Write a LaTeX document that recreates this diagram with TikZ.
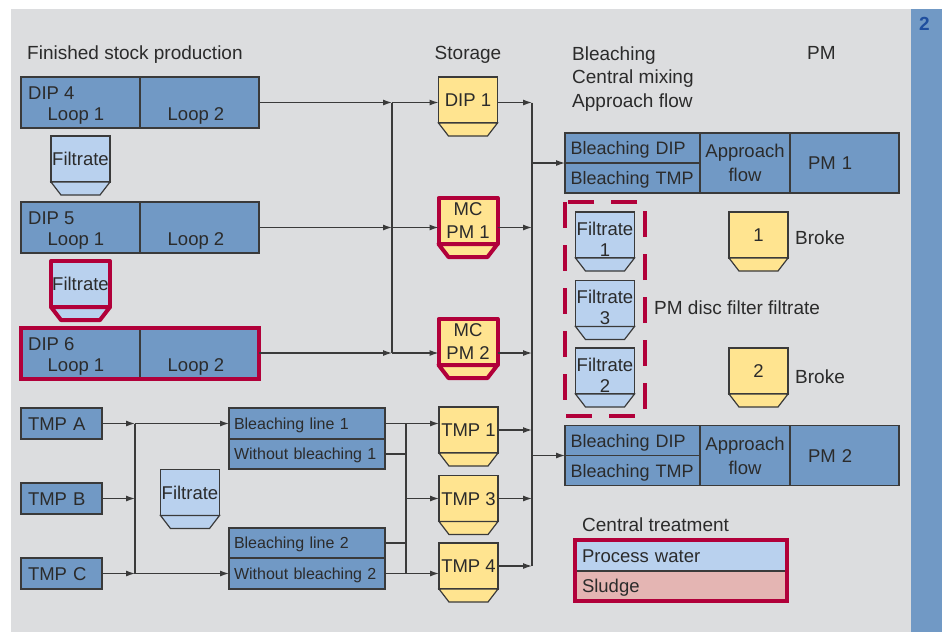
\documentclass[tikz,border=0pt]{standalone}
\usepackage{fontspec}
\setmainfont{Liberation Sans}
\usetikzlibrary{arrows.meta,calc}
\definecolor{panel}{HTML}{DCDDDF}
\definecolor{sidebar}{HTML}{7199C5}
\definecolor{boxblue}{HTML}{7199C5}
\definecolor{paleblue}{HTML}{B9D1EE}
\definecolor{paleyellow}{HTML}{FFE490}
\definecolor{alert}{HTML}{B1003A}
\definecolor{sludge}{HTML}{E4B5B3}
\definecolor{ink}{HTML}{2B2B2B}
\definecolor{edge}{HTML}{3A3A3A}
\definecolor{tag}{HTML}{1F4E9E}

\tikzset{
  oneline/.style={text height=13pt, text depth=0pt},
  box/.style={draw=edge, line width=1.2pt, fill=boxblue, inner sep=0pt, outer sep=0pt, text=ink},
  cell/.style={box, oneline, align=left, inner xsep=7pt, minimum height=#1},
  cell/.default=30pt,
  bin/.style={draw=edge, line width=1.2pt, fill=#1, minimum width=59pt, minimum height=46pt,
    inner sep=0pt, outer sep=0pt, align=center, font=\fontsize{18.5}{21}\selectfont},
  hotbin/.style={bin=#1, draw=alert, line width=4pt, line join=round},
  head/.style={font=\fontsize{19}{21}\selectfont, inner sep=0pt, text=ink},
  wire/.style={draw=edge, line width=1.2pt},
  flow/.style={wire, -{Latex[length=9pt,width=6pt]}}
}

\begin{document}
\begin{tikzpicture}[x=1pt, y=-1pt, font=\fontsize{18.5}{21}\selectfont, text=ink]
    \useasboundingbox (0,0) rectangle (942,632);
    \fill [white] (0,0) rectangle (942,632);
    \fill [panel] (11,9) rectangle (911,632);
    \fill [sidebar] (911,9) rectangle (942,632);
    \node [font=\fontsize{19}{21}\selectfont\bfseries, text=tag] (fignum) at (924.5,24) {2};

    \node [head, oneline, anchor=west] (hfin) at (27,53) {Finished stock production};
    \node [head, oneline] (hsto) at (468,53) {Storage};
    \node [head, anchor=west, align=left, font=\fontsize{19}{23.5}\selectfont] (hble) at (572,79) {Bleaching\\Central mixing\\Approach flow};
    \node [head, oneline, anchor=west] (hpm) at (807,53) {PM};

    \foreach \n/\y in {4/102.5,5/227.5,6/353}
        {\node [box, minimum width=119pt, minimum height=51pt] (dip\n l) at (80.5,\y) {};
         \node [box, minimum width=119pt, minimum height=51pt] (dip\n r) at (199.5,\y) {};
         \node [oneline, anchor=west, inner sep=0pt] (dip\n t) at (28,\y-9.5) {DIP \n};
         \node [oneline, inner sep=0pt] (dip\n a) at (76,\y+11.5) {Loop 1};
         \node [oneline, inner sep=0pt] (dip\n b) at (196,\y+11.5) {Loop 2};}
    \draw [alert, line width=4pt] (dip6l.north west) rectangle (dip6r.south east);

    \node [bin=paleblue, oneline] (filt4) at (80.5,159) {Filtrate};
    \node [hotbin=paleblue, oneline] (filt5) at (80.5,284) {Filtrate};
    \node [bin=paleblue, oneline] (filtc) at (190,492.5) {Filtrate};
    \node [bin=paleyellow, oneline] (dip1) at (468,100) {DIP 1};
    \node [hotbin=paleyellow, font=\fontsize{18.5}{23}\selectfont] (mcpm1) at (468,221) {MC\\PM 1};
    \node [hotbin=paleyellow, font=\fontsize{18.5}{23}\selectfont] (mcpm2) at (468,342) {MC\\PM 2};
    \node [bin=paleyellow, oneline] (tmp1) at (468.5,430) {TMP 1};
    \node [bin=paleyellow, oneline] (tmp3) at (468.5,498.5) {TMP 3};
    \node [bin=paleyellow, oneline] (tmp4) at (468.5,566) {TMP 4};
    \node [bin=paleblue] (filt1) at (605,235) {\rule{0pt}{22pt}Filtrate\\1};
    \node [bin=paleblue] (filt3) at (605,303.5) {\rule{0pt}{22pt}Filtrate\\3};
    \node [bin=paleblue] (filt2) at (605,371) {\rule{0pt}{22pt}Filtrate\\2};
    \node [bin=paleyellow, oneline] (broke1) at (758.5,235) {1};
    \node [bin=paleyellow, oneline] (broke2) at (758.5,371) {2};

    \foreach \b/\c in {filt4/paleblue,filtc/paleblue,dip1/paleyellow,tmp1/paleyellow,tmp3/paleyellow,tmp4/paleyellow,filt1/paleblue,filt3/paleblue,filt2/paleblue,broke1/paleyellow,broke2/paleyellow}
        {\filldraw [draw=edge, line width=1.2pt, fill=\c] (\b.south west) -- ++(10,13) -- ($(\b.south east)+(-10,13)$) -- (\b.south east) -- cycle;}
    \foreach \b/\c in {filt5/paleblue,mcpm1/paleyellow,mcpm2/paleyellow}
        {\filldraw [draw=alert, line width=4pt, line join=round, fill=\c] (\b.south west) -- ++(10,13) -- ($(\b.south east)+(-10,13)$) -- (\b.south east) -- cycle;}

    \foreach \t/\y in {A/423.5,B/498.5,C/573.5}
        {\node [cell=31pt, text width=67pt] (tmp\t) at (61.5,\y) {TMP \t};}
    \foreach \b/\y/\h/\s in {bl1/423.5/31pt/Bleaching line 1,wb1/454/30pt/Without bleaching 1,bl2/543/30pt/Bleaching line 2,wb2/573.5/31pt/Without bleaching 2}
        {\node [cell=\h, text height=11.5pt, text width=146pt, inner xsep=5pt, font=\fontsize{16}{19}\selectfont] (\b) at (307,\y) {\mbox{\s}};}

    \foreach \p/\y in {1/163,2/455.5}
        {\node [cell, text width=124pt, inner xsep=5.5pt, font=\fontsize{18}{21}\selectfont] (pm\p a) at (632.5,\y-15) {Bleaching DIP};
         \node [cell, text width=124pt, inner xsep=5.5pt, font=\fontsize{18}{21}\selectfont] (pm\p b) at (632.5,\y+15) {Bleaching TMP};
         \node [box, minimum width=90pt, minimum height=60pt, align=center, font=\fontsize{18.5}{24}\selectfont] (pm\p c) at (745,\y) {Approach\\flow};
         \node [box, oneline, minimum height=60pt, align=left, text width=79pt, inner xsep=15pt] (pm\p d) at (844.5,\y) {\hspace{3pt}PM \p};}

    \node [head, oneline, anchor=west] (broke1t) at (795,238) {Broke};
    \node [head, oneline, anchor=west] (broke2t) at (795,377) {Broke};
    \node [head, oneline, anchor=west] (disc) at (654,308) {PM disc filter filtrate};
    \draw [alert, line width=4pt, dash pattern=on 26pt off 17pt] (565,202) rectangle (645,416);

    \node [head, oneline, anchor=west] (central) at (582,525) {Central treatment};
    \node [cell=31pt, fill=paleblue, text width=198pt] (water) at (681,555.5) {Process water};
    \node [cell=30pt, fill=sludge, text width=198pt] (sludge) at (681,586) {Sludge};
    \draw [alert, line width=4.5pt] (water.north west) rectangle (sludge.south east);

    \coordinate (busa) at (392,0);
    \coordinate (busb) at (532,0);
    \coordinate (busc) at (135,0);
    \coordinate (busd) at (406,0);

    \foreach \n/\s in {4/dip1,5/mcpm1,6/mcpm2}
        {\draw [flow] (dip\n r.east) -- (dip\n r.east -| busa);
         \draw [flow] (dip\n r.east -| busa) -- (dip\n r.east -| \s.west);
         \draw [flow] (dip\n r.east -| \s.east) -- (dip\n r.east -| busb);}
    \draw [wire] (dip4r.east -| busa) -- (dip6r.east -| busa);

    \foreach \t in {A,B,C}
        {\draw [flow] (tmp\t.east) -- (tmp\t.east -| busc);}
    \draw [wire] (tmpA.east -| busc) -- (tmpC.east -| busc);
    \draw [flow] (tmpA.east -| busc) -- (bl1.west);
    \draw [flow] (tmpC.east -| busc) -- (wb2.west);
    \foreach \b in {bl1,wb1,bl2,wb2}
        {\draw [wire] (\b.east) -- (\b.east -| busd);}
    \draw [wire] (bl1.east -| busd) -- (wb2.east -| busd);
    \draw [flow] (bl1.east -| busd) -- (bl1.east -| tmp1.west);
    \draw [flow] (tmp3.west -| busd) -- (tmp3.west);
    \draw [flow] (wb2.east -| busd) -- (wb2.east -| tmp4.west);
    \foreach \t in {tmp1,tmp3,tmp4}
        {\draw [flow] (\t.east) -- (\t.east -| busb);}
    \draw [wire] (dip4r.east -| busb) -- (tmp4.east -| busb);
    \draw [flow] (pm1a.south -| busb) -- (pm1a.south west);
    \draw [flow] (pm2a.south -| busb) -- (pm2a.south west);
\end{tikzpicture}
\end{document}
